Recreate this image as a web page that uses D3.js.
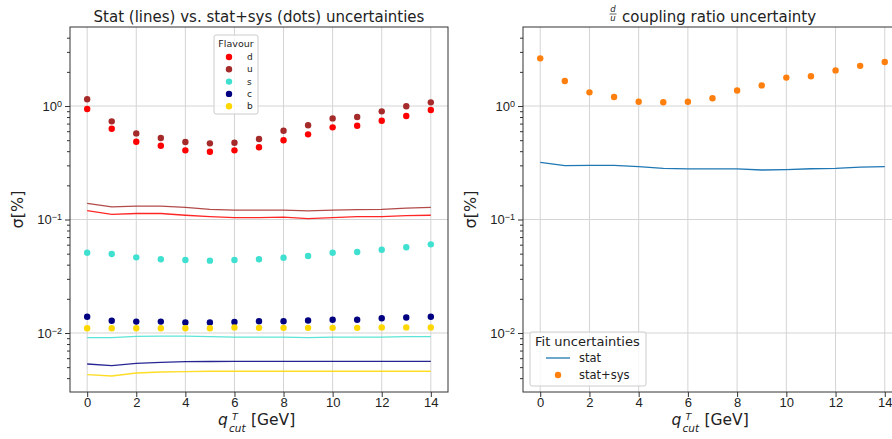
<!DOCTYPE html>
<html>
<head>
<meta charset="utf-8">
<script src="https://cdn.jsdelivr.net/npm/d3@7"></script>
<style>
  body { margin: 0; background: #fff; }
  svg { font-family: "DejaVu Sans", sans-serif; }
  .grid line { stroke: #d4d4d4; stroke-width: 1; }
  .axis path, .axis line { stroke: #333; }
  .axis text { fill: #222; font-size: 13px; }
</style>
</head>
<body>
<svg id="chart" width="892" height="439"></svg>
<script>
const qcut = [0, 1, 2, 3, 4, 5, 6, 7, 8, 9, 10, 11, 12, 13, 14]

// stat+sys (dots), in %
const dTot = [0.94, 0.63, 0.485, 0.447, 0.407, 0.395, 0.407, 0.433, 0.50, 0.563, 0.649, 0.671, 0.742, 0.816, 0.922]
const uTot = [1.146, 0.733, 0.574, 0.523, 0.482, 0.469, 0.475, 0.512, 0.606, 0.676, 0.778, 0.80, 0.898, 0.994, 1.077]
const sTot = [0.051, 0.0497, 0.0464, 0.0446, 0.044, 0.0434, 0.044, 0.0446, 0.046, 0.0477, 0.051, 0.0517, 0.0542, 0.0569, 0.0604]
const cTot = [0.0139, 0.0128, 0.0126, 0.0126, 0.0124, 0.0124, 0.0125, 0.0127, 0.0127, 0.0129, 0.0131, 0.0131, 0.0135, 0.0137, 0.0139]
const bTot = [0.0110, 0.0110, 0.0110, 0.0110, 0.0110, 0.0110, 0.0112, 0.0111, 0.0111, 0.0111, 0.0111, 0.0111, 0.0112, 0.0112, 0.0112]

// stat only (lines), in %
const dStat = [0.120, 0.111, 0.113, 0.113, 0.109, 0.106, 0.104, 0.104, 0.105, 0.102, 0.104, 0.106, 0.106, 0.108, 0.109]
const uStat = [0.139, 0.129, 0.131, 0.131, 0.128, 0.123, 0.121, 0.121, 0.121, 0.119, 0.121, 0.122, 0.123, 0.126, 0.128]
const sStat = [0.0091, 0.0091, 0.00934, 0.0094, 0.0094, 0.0093, 0.0092, 0.0092, 0.0092, 0.0091, 0.0092, 0.0092, 0.0092, 0.0093, 0.0093]
const cStat = [0.00533, 0.00515, 0.0054, 0.00552, 0.0056, 0.00561, 0.00562, 0.00562, 0.00562, 0.00562, 0.00562, 0.00562, 0.00562, 0.00562, 0.00562]
const bStat = [0.0043, 0.00418, 0.00444, 0.00453, 0.00457, 0.0046, 0.0046, 0.0046, 0.0046, 0.0046, 0.0046, 0.0046, 0.0046, 0.0046, 0.0046]

// d/u coupling ratio, in %
const ratioTot = [2.63, 1.66, 1.32, 1.2, 1.09, 1.08, 1.09, 1.17, 1.37, 1.52, 1.78, 1.83, 2.06, 2.26, 2.44]
const ratioStat = [0.319, 0.298, 0.30, 0.30, 0.292, 0.282, 0.279, 0.279, 0.279, 0.273, 0.275, 0.28, 0.282, 0.29, 0.292]

const flavours = ['d', 'u', 's', 'c', 'b']
const flavourColors = ['#ff0000', '#a52a2a', '#40e0d0', '#000080', '#ffd700']
const totals = [dTot, uTot, sTot, cTot, bTot]
const stats = [dStat, uStat, sStat, cStat, bStat]

const xTicks = [0, 2, 4, 6, 8, 10, 12, 14]
const yExps = [0, -1, -2]

let svg = d3.select('#chart')
let yTop = 27, yBottom = 392
let y = d3.scaleLog().domain([0.00302, 4.97]).range([yBottom, yTop])
let minorTicks = []
for (let e = -3; e <= 0; e++)
  for (let m = 2; m <= 9; m++) {
    let v = m * Math.pow(10, e)
    if (v >= y.domain()[0] && v <= y.domain()[1]) minorTicks.push(v)
  }

let defs = svg.append('defs')
defs.append('clipPath').attr('id', 'figclip')
  .append('rect').attr('width', 892).attr('height', 439)

function panel(x0, x1) {
  let x = d3.scaleLinear().domain([-0.7, 14.7]).range([x0, x1])
  let g = svg.append('g').attr('clip-path', 'url(#figclip)')

  let cp = 'clip' + Math.round(x0)
  defs.append('clipPath').attr('id', cp)
    .append('rect').attr('x', x0).attr('y', yTop).attr('width', x1 - x0).attr('height', yBottom - yTop)

  // grid
  let grid = g.append('g').attr('class', 'grid')
  grid.selectAll('.gx').data(xTicks).enter().append('line')
    .attr('x1', d => x(d)).attr('x2', d => x(d)).attr('y1', yTop).attr('y2', yBottom)
  grid.selectAll('.gy').data(yExps).enter().append('line')
    .attr('x1', x0).attr('x2', x1).attr('y1', d => y(Math.pow(10, d))).attr('y2', d => y(Math.pow(10, d)))

  let plotArea = g.append('g').attr('clip-path', `url(#${cp})`)

  // axes
  g.append('g').attr('class', 'axis')
    .attr('transform', `translate(0,${yBottom})`)
    .call(d3.axisBottom(x).tickValues(xTicks).tickSize(5).tickPadding(1).tickFormat(d3.format('d')))
    .call(a => a.select('.domain').remove())
  g.append('g').attr('class', 'axis').attr('transform', `translate(${x0},0)`)
    .call(d3.axisLeft(y).tickValues(minorTicks).tickSize(3).tickFormat(''))
    .call(a => a.select('.domain').remove())
  let yMajor = g.append('g').attr('class', 'axis').attr('transform', `translate(${x0},0)`)
  yMajor.call(d3.axisLeft(y).tickValues(yExps.map(e => Math.pow(10, e))).tickSize(5).tickPadding(3).tickFormat(''))
    .call(a => a.select('.domain').remove())
  yMajor.selectAll('.tick').append('text')
    .attr('x', -8).attr('dy', '0.32em').attr('text-anchor', 'end')
    .style('font-size', '13px').attr('fill', '#222')
    .each(function(d) {
      let t = d3.select(this)
      let e = Math.round(Math.log10(d))
      t.append('tspan').text('10')
      t.append('tspan').attr('dy', '-0.45em').style('font-size', '9px')
        .text(e === 0 ? '0' : '\u2212' + Math.abs(e))
    })

  // frame
  g.append('rect').attr('x', x0).attr('y', yTop).attr('width', x1 - x0).attr('height', yBottom - yTop)
    .attr('fill', 'none').attr('stroke', '#333').attr('stroke-width', 1)

  // x label: q^T_cut [GeV], pieces placed side by side
  let cx = (x0 + x1) / 2
  let lab = g.append('g').attr('fill', '#222')
  lab.append('text').attr('x', cx - 41).attr('y', 425).style('font-size', '15.5px').style('font-style', 'italic').text('q')
  lab.append('text').attr('x', cx - 27).attr('y', 419.5).style('font-size', '9.5px').style('font-style', 'italic').text('T')
  lab.append('text').attr('x', cx - 30).attr('y', 432).style('font-size', '10.5px').style('font-style', 'italic').text('cut')
  lab.append('text').attr('x', cx - 8).attr('y', 425).style('font-size', '15.5px').text('[GeV]')

  // y label
  g.append('text')
    .attr('transform', `translate(${x0 - 47},${(yTop + yBottom) / 2}) rotate(-90)`)
    .attr('text-anchor', 'middle').style('font-size', '16px').attr('fill', '#222')
    .text('\u03c3[%]')

  return { x, g, plotArea }
}

// ---- left panel ----
let L = panel(70, 448)
svg.append('text').attr('x', 259).attr('y', 22).attr('text-anchor', 'middle')
  .style('font-size', '15px').attr('fill', '#222')
  .text('Stat (lines) vs. stat+sys (dots) uncertainties')

let line = d3.line().x((d, i) => L.x(qcut[i])).y(d => y(d))
L.plotArea.selectAll('.stat').data(stats).enter().append('path')
  .attr('fill', 'none')
  .attr('stroke', (d, i) => flavourColors[i]).attr('stroke-opacity', 0.85).attr('stroke-width', 1.3)
  .attr('d', d => line(d))

totals.forEach((series, k) => {
  L.plotArea.selectAll('.dot' + k).data(series).enter().append('circle')
    .attr('cx', (d, i) => L.x(qcut[i])).attr('cy', d => y(d))
    .attr('r', 3.2).attr('fill', flavourColors[k])
})

// legend (Flavour)
let lg = svg.append('g').attr('transform', 'translate(214,35)')
lg.append('rect').attr('width', 44).attr('height', 79).attr('rx', 2)
  .attr('fill', '#fff').attr('fill-opacity', 0.8).attr('stroke', '#ccc')
lg.append('text').attr('x', 22).attr('y', 12).attr('text-anchor', 'middle')
  .style('font-size', '9.5px').attr('fill', '#222').text('Flavour')
let le = lg.selectAll('.le').data(flavours).enter().append('g')
  .attr('transform', (d, i) => `translate(0,${22 + i * 12.3})`)
le.append('circle').attr('cx', 15).attr('r', 3.2).attr('fill', (d, i) => flavourColors[i])
le.append('text').attr('x', 33).attr('dy', '0.33em').style('font-size', '9px').attr('fill', '#222').text(d => d)

// ---- right panel ----
let R = panel(523, 902)
let rt = svg.append('g').attr('fill', '#222')
rt.append('text').attr('x', 613).attr('y', 12).attr('text-anchor', 'middle')
  .style('font-size', '8.5px').style('font-style', 'italic').text('d')
rt.append('line').attr('x1', 609.5).attr('x2', 616.5).attr('y1', 14).attr('y2', 14)
  .attr('stroke', '#222').attr('stroke-width', 0.7)
rt.append('text').attr('x', 613).attr('y', 21).attr('text-anchor', 'middle')
  .style('font-size', '8.5px').style('font-style', 'italic').text('u')
rt.append('text').attr('x', 622).attr('y', 22).attr('text-anchor', 'start')
  .style('font-size', '15px').text('coupling ratio uncertainty')

let rline = d3.line().x((d, i) => R.x(qcut[i])).y(d => y(d))
R.plotArea.append('path').datum(ratioStat)
  .attr('fill', 'none').attr('stroke', '#1f77b4').attr('stroke-width', 1.3)
  .attr('d', rline)
R.plotArea.selectAll('.rdot').data(ratioTot).enter().append('circle')
  .attr('cx', (d, i) => R.x(qcut[i])).attr('cy', d => y(d))
  .attr('r', 3.2).attr('fill', '#ff7f0e')

// legend (Fit uncertainties)
let rg = svg.append('g').attr('transform', 'translate(530,332)')
rg.append('rect').attr('width', 116).attr('height', 54).attr('rx', 2)
  .attr('fill', '#fff').attr('fill-opacity', 0.8).attr('stroke', '#ccc')
rg.append('text').attr('x', 5).attr('y', 14).style('font-size', '13px').attr('fill', '#222').text('Fit uncertainties')
rg.append('line').attr('x1', 16).attr('x2', 40).attr('y1', 26).attr('y2', 26)
  .attr('stroke', '#1f77b4').attr('stroke-width', 1.3)
rg.append('text').attr('x', 49).attr('y', 26).attr('dy', '0.33em').style('font-size', '11.5px').attr('fill', '#222').text('stat')
rg.append('circle').attr('cx', 28).attr('cy', 43).attr('r', 3.2).attr('fill', '#ff7f0e')
rg.append('text').attr('x', 49).attr('y', 43).attr('dy', '0.33em').style('font-size', '11.5px').attr('fill', '#222').text('stat+sys')
</script>
</body>
</html>
